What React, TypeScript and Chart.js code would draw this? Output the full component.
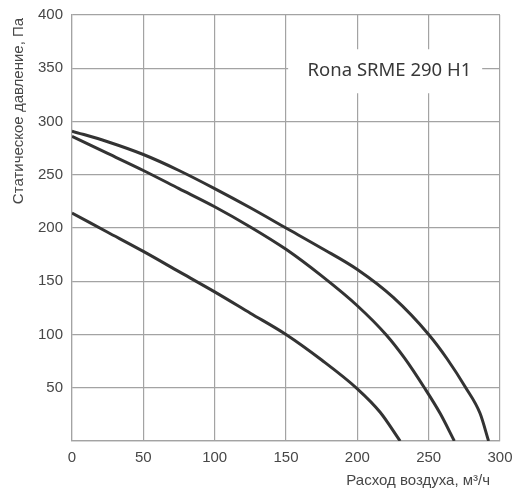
import { useEffect, useRef } from "react";
import { Chart, registerables } from "chart.js";

Chart.register(...registerables);

// air flow (m3/h) / static pressure (Pa) for each curve
const flowTop = [0, 25, 50, 75, 100, 125, 150, 175, 200, 225, 250, 263, 276, 286, 292];
const pressureTop = [291, 281, 269, 254, 237, 219, 200, 181, 161, 135, 100, 77, 50, 26, 0];

const flowMid = [0, 25, 50, 75, 100, 125, 150, 175, 200, 220, 233, 247, 258, 268];
const pressureMid = [286, 270, 254, 237, 220, 201, 180, 155, 127, 100, 78, 50, 26, 0];

const flowLow = [0, 25, 50, 75, 100, 125, 150, 175, 200, 216, 230];
const pressureLow = [214, 196, 178, 159, 140, 120, 100, 76, 49, 27, 0];

const xTicks = [0, 50, 100, 150, 200, 250, 300];
const yTicks = [0, 50, 100, 150, 200, 250, 300, 350, 400];

const modelName = "Rona SRME 290 H1";
const yTitle = "Статическое давление, Па";
const xTitle = "Расход воздуха, м³/ч";

const toPoints = (xs: number[], ys: number[]) => xs.map((x, i) => ({ x, y: ys[i] }));

const textColor = "#474747";
const gridColor = "#a3a3a3";

const labelsPlugin = {
  id: "labels",
  beforeDatasetsDraw(chart: Chart) {
    const { ctx, scales } = chart;
    const x = scales.x;
    const y = scales.y;
    ctx.save();
    // white box behind the model name, cutting the grid
    const cx = x.getPixelForValue(222.5);
    const cy = y.getPixelForValue(350);
    const left = x.getPixelForValue(151.5);
    ctx.fillStyle = "#fff";
    ctx.fillRect(left, cy - 19, x.getPixelForValue(287.5) - left, 44);
    ctx.fillStyle = "#383838";
    ctx.font = '18.5px "Noto Sans"';
    ctx.textAlign = "center";
    ctx.textBaseline = "middle";
    ctx.fillText(modelName, cx, cy + 2);
    ctx.restore();
  },
  afterDraw(chart: Chart) {
    const { ctx } = chart;
    ctx.save();
    ctx.fillStyle = textColor;
    ctx.font = '15px "Liberation Sans", Arial, sans-serif';
    ctx.textBaseline = "middle";
    ctx.textAlign = "right";
    ctx.fillText(xTitle, 490, 481);
    ctx.translate(19, 111);
    ctx.rotate(-Math.PI / 2);
    ctx.textAlign = "center";
    ctx.fillText(yTitle, 0, 0);
    ctx.restore();
  },
};

const lineStyle = {
  borderColor: "#333333",
  borderWidth: 3,
  pointRadius: 0,
  fill: false,
  cubicInterpolationMode: "monotone" as const,
};

export default function App() {
  const canvasRef = useRef<HTMLCanvasElement | null>(null);

  useEffect(() => {
    if (!canvasRef.current) return;
    const chart = new Chart(canvasRef.current, {
      type: "line",
      data: {
        datasets: [
          { ...lineStyle, data: toPoints(flowTop, pressureTop) },
          { ...lineStyle, data: toPoints(flowMid, pressureMid) },
          { ...lineStyle, data: toPoints(flowLow, pressureLow) },
        ],
      },
      options: {
        responsive: false,
        animation: false,
        layout: { padding: { left: 0, top: 15, right: 14, bottom: 0 } },
        plugins: { legend: { display: false }, tooltip: { enabled: false } },
        scales: {
          x: {
            type: "linear",
            min: 0,
            max: 300,
            afterBuildTicks: (scale) => {
              scale.ticks = xTicks.map((value) => ({ value }));
            },
            afterFit: (scale) => {
              scale.height = 57;
              scale.paddingLeft = 0;
              scale.paddingRight = 0;
            },
            grid: { color: gridColor, lineWidth: 1.2, drawTicks: false },
            border: { color: gridColor, width: 1.2 },
            ticks: {
              color: textColor,
              padding: 8,
              maxRotation: 0,
              font: { family: '"Liberation Sans", Arial, sans-serif', size: 15 },
            },
          },
          y: {
            min: 0,
            max: 400,
            afterBuildTicks: (scale) => {
              scale.ticks = yTicks.map((value) => ({ value }));
            },
            afterFit: (scale) => {
              scale.width = 72;
              scale.paddingTop = 0;
              scale.paddingBottom = 0;
            },
            grid: { color: gridColor, lineWidth: 1.2, drawTicks: false },
            border: { color: gridColor, width: 1.2 },
            ticks: {
              color: textColor,
              padding: 9,
              callback: (v) => (v === 0 ? "" : String(v)),
              font: { family: '"Liberation Sans", Arial, sans-serif', size: 15 },
            },
          },
        },
      },
      plugins: [labelsPlugin],
    });
    return () => chart.destroy();
  }, []);

  return (
    <div style={{ position: "fixed", left: 0, top: 0, width: 514, height: 498, background: "#fff" }}>
      <canvas ref={canvasRef} width={514} height={498} />
    </div>
  );
}
